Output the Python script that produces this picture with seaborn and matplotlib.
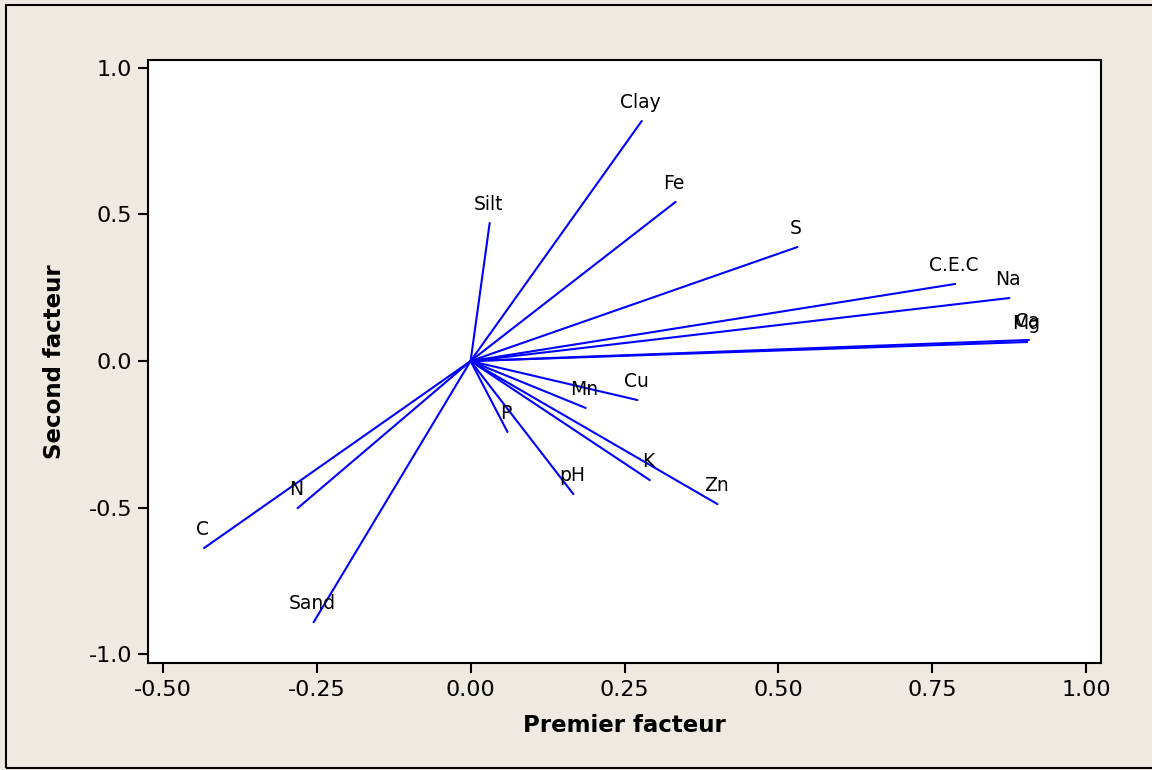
import matplotlib
matplotlib.use("Agg")
import matplotlib.pyplot as plt
from matplotlib.patches import Rectangle
import pandas as pd
import seaborn as sns

# Loadings on the first two factors
variables = ["Clay", "Fe", "Silt", "S", "C.E.C", "Na", "Ca", "Mg",
             "Cu", "Mn", "P", "pH", "K", "Zn", "N", "C", "Sand"]
factor1 = [0.278, 0.333, 0.031, 0.531, 0.787, 0.875, 0.907, 0.904,
           0.271, 0.187, 0.060, 0.167, 0.291, 0.401, -0.281, -0.433, -0.255]
factor2 = [0.819, 0.543, 0.471, 0.389, 0.263, 0.215, 0.072, 0.065,
           -0.133, -0.160, -0.242, -0.454, -0.406, -0.488, -0.502, -0.638, -0.891]

xticks = [-0.50, -0.25, 0.00, 0.25, 0.50, 0.75, 1.00]
yticks = [-1.0, -0.5, 0.0, 0.5, 1.0]

# Each loading vector runs from the origin to its end point
rows = []
for name, f1, f2 in zip(variables, factor1, factor2):
    rows.append({"var": name, "order": 0, "f1": 0.0, "f2": 0.0})
    rows.append({"var": name, "order": 1, "f1": f1, "f2": f2})
df = pd.DataFrame(rows)

sns.set_theme(style="white")
plt.rcParams["font.family"] = ["DejaVu Sans"]

bg = "#EEEAE1"
fig = plt.figure(figsize=(11.52, 7.70), dpi=100, facecolor=bg)
ax = fig.add_axes([148 / 1152, 1 - 663 / 770, (1101 - 148) / 1152, (663 - 60) / 770])
ax.set_facecolor("white")

sns.lineplot(data=df, x="f1", y="f2", units="var", estimator=None, sort=False,
             color="#0000FF", linewidth=1.5, ax=ax)

for name, f1, f2 in zip(variables, factor1, factor2):
    ax.annotate(name, (f1, f2), xytext=(-1, 9.5), textcoords="offset points",
                ha="center", va="baseline", fontsize=13.5, color="black")

ax.set_xlim(-0.524, 1.024)
ax.set_ylim(-1.03, 1.027)
ax.set_xticks(xticks)
ax.set_xticklabels([f"{t:.2f}" for t in xticks])
ax.set_yticks(yticks)
ax.set_yticklabels([f"{t:.1f}" for t in yticks])
ax.tick_params(axis="both", direction="out", length=7.5, width=1.5,
               labelsize=16, colors="black", bottom=True, left=True)
ax.tick_params(axis="x", pad=5)
ax.tick_params(axis="y", pad=4)

for sp in ax.spines.values():
    sp.set_color("black")
    sp.set_linewidth(1.5)

ax.set_xlabel("Premier facteur", fontsize=16.5, fontweight="bold", labelpad=10, color="black")
ax.set_ylabel("Second facteur", fontsize=16.5, fontweight="bold", labelpad=16, color="black")

# Frame around the whole graph window
fig.patches.append(Rectangle((6 / 1152, 2 / 770), 1.2, 1 - 6.5 / 770,
                             transform=fig.transFigure, fill=False,
                             edgecolor="black", linewidth=1.5, zorder=0))

fig.savefig("out.png", dpi=100, facecolor=bg)
